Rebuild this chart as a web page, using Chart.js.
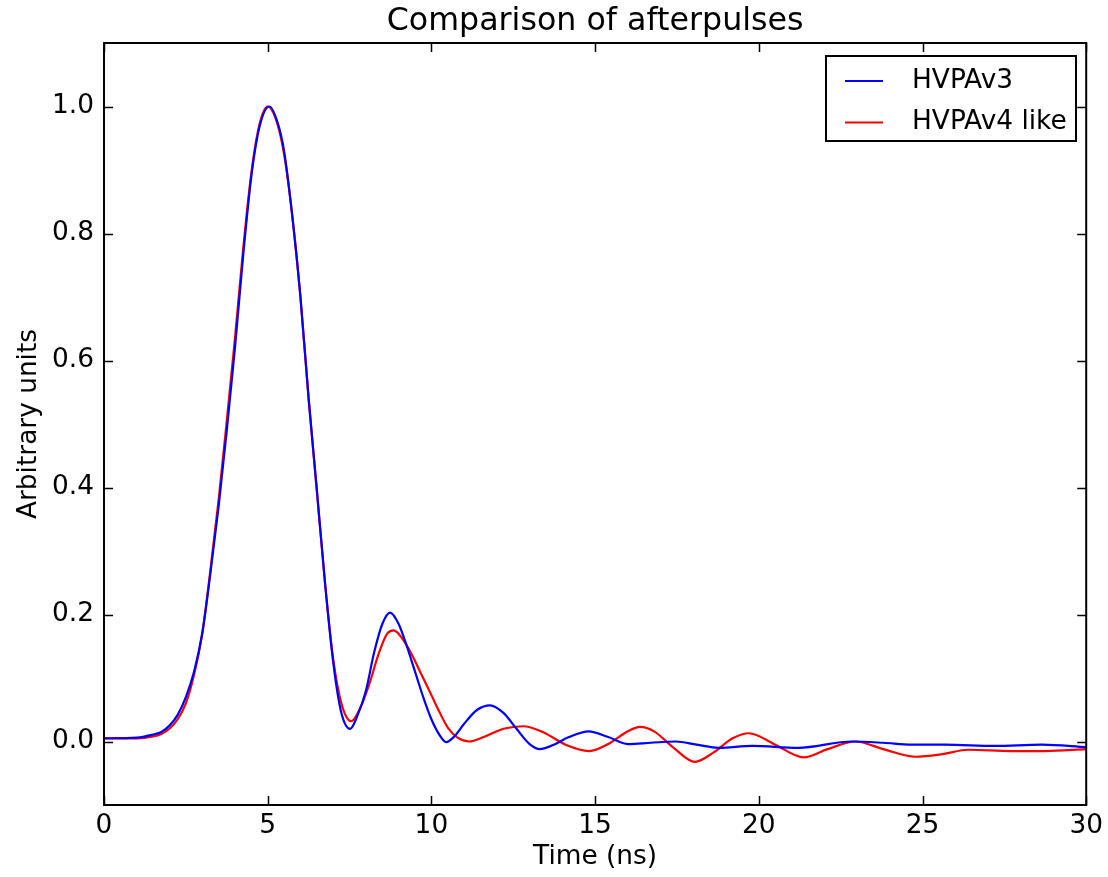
<!DOCTYPE html>
<html>
<head>
<meta charset="utf-8">
<script src="https://cdn.jsdelivr.net/npm/chart.js@4/dist/chart.umd.min.js"></script>
<style>
  html, body { margin: 0; padding: 0; background: #fff; }
  #wrap { width: 1108px; height: 877px; }
</style>
</head>
<body>
<div id="wrap"><canvas id="c" width="1108" height="877"></canvas></div>
<script>
const titleText = 'Comparison of afterpulses';
const xTitle = 'Time (ns)';
const yTitle = 'Arbitrary units';
const seriesNames = ['HVPAv3', 'HVPAv4 like'];
const xTicks = [0, 5, 10, 15, 20, 25, 30];
const yTicks = [0.0, 0.2, 0.4, 0.6, 0.8, 1.0];

const v3Time = [0, 1.0, 1.5, 1.75, 2.0, 2.25, 2.5, 2.75, 3.0, 3.25, 3.5, 3.75, 4.0, 4.25, 4.5, 4.75, 5.05, 5.3, 5.5, 5.75, 6.0, 6.25, 6.5, 6.75, 7.0, 7.25, 7.52, 7.75, 8.0, 8.25, 8.5, 8.74, 9.0, 9.25, 9.5, 9.75, 10.0, 10.25, 10.45, 10.7, 11.0, 11.4, 11.79, 12.2, 12.6, 13.0, 13.31, 13.7, 14.2, 14.8, 15.4, 16.0, 16.7, 17.46, 18.1, 18.78, 19.8, 21.2, 22.84, 23.8, 24.67, 25.69, 27.2, 28.64, 30];
const v3Values = [0.005, 0.006, 0.011, 0.015, 0.025, 0.042, 0.07, 0.11, 0.17, 0.265, 0.37, 0.49, 0.62, 0.765, 0.89, 0.968, 1.0, 0.975, 0.93, 0.828, 0.70, 0.54, 0.397, 0.25, 0.125, 0.045, 0.02, 0.042, 0.08, 0.14, 0.185, 0.203, 0.185, 0.15, 0.11, 0.07, 0.035, 0.01, -0.001, 0.008, 0.028, 0.05, 0.057, 0.045, 0.02, -0.004, -0.012, -0.006, 0.007, 0.016, 0.007, -0.004, -0.002, 0.0, -0.005, -0.010, -0.007, -0.010, 0.0, -0.002, -0.005, -0.005, -0.007, -0.005, -0.009];

const v4Time = [0, 1.0, 1.5, 1.75, 2.0, 2.25, 2.5, 2.75, 3.0, 3.25, 3.5, 3.75, 4.0, 4.25, 4.5, 4.75, 5.0, 5.25, 5.5, 5.75, 6.0, 6.25, 6.5, 6.75, 7.0, 7.25, 7.55, 7.8, 8.1, 8.4, 8.65, 8.85, 9.1, 9.4, 9.7, 10.0, 10.25, 10.5, 10.8, 11.15, 11.6, 12.2, 12.8, 13.4, 14.1, 14.82, 15.4, 16.0, 16.37, 16.8, 17.4, 18.05, 18.6, 19.2, 19.7, 20.5, 21.37, 22.1, 22.95, 23.8, 24.78, 25.6, 26.4, 27.72, 28.74, 30];
const v4Values = [0.005, 0.005, 0.008, 0.012, 0.02, 0.035, 0.06, 0.105, 0.17, 0.27, 0.38, 0.505, 0.635, 0.775, 0.895, 0.972, 1.0, 0.98, 0.925, 0.828, 0.70, 0.54, 0.395, 0.25, 0.13, 0.06, 0.032, 0.05, 0.09, 0.14, 0.17, 0.175, 0.163, 0.137, 0.105, 0.073, 0.046, 0.022, 0.006, 0.0, 0.007, 0.02, 0.024, 0.015, -0.005, -0.015, -0.004, 0.016, 0.023, 0.016, -0.010, -0.032, -0.018, 0.005, 0.013, -0.005, -0.025, -0.012, 0.0, -0.012, -0.024, -0.020, -0.013, -0.015, -0.015, -0.012];

const FONT = "'DejaVu Sans', sans-serif";
const TICK_SIZE = 26.4;
const TITLE_SIZE = 31.7;

const framePlugin = {
  id: 'frame',
  afterDatasetsDraw(chart) {
    const ctx = chart.ctx;
    const a = chart.chartArea;
    const xs = chart.scales.x, ys = chart.scales.y;
    ctx.save();
    ctx.strokeStyle = '#000';
    ctx.lineWidth = 2;
    ctx.strokeRect(a.left, a.top, a.right - a.left, a.bottom - a.top);
    const L = 9;
    ctx.beginPath();
    xs.ticks.forEach(t => {
      const px = Math.round(xs.getPixelForValue(t.value)) + 0.5;
      ctx.moveTo(px, a.bottom); ctx.lineTo(px, a.bottom - L);
      ctx.moveTo(px, a.top); ctx.lineTo(px, a.top + L);
    });
    ys.ticks.forEach(t => {
      const py = Math.round(ys.getPixelForValue(t.value)) + 0.5;
      ctx.moveTo(a.left, py); ctx.lineTo(a.left + L, py);
      ctx.moveTo(a.right, py); ctx.lineTo(a.right - L, py);
    });
    ctx.lineWidth = 1.5;
    ctx.stroke();
    // title
    ctx.fillStyle = '#000';
    ctx.font = TITLE_SIZE + 'px ' + FONT;
    ctx.textAlign = 'center';
    ctx.textBaseline = 'middle';
    ctx.fillText(titleText, (a.left + a.right) / 2, 22);
    // legend
    const bx = 826, by = 56, bw = 250, bh = 85;
    ctx.fillStyle = '#fff';
    ctx.fillRect(bx, by, bw, bh);
    ctx.lineWidth = 2;
    ctx.strokeStyle = '#000';
    ctx.strokeRect(bx, by, bw, bh);
    ctx.font = TICK_SIZE + 'px ' + FONT;
    ctx.textBaseline = 'middle';
    ctx.textAlign = 'left';
    chart.data.datasets.forEach((ds, i) => {
      const y = by + 25 + i * 41.5;
      ctx.strokeStyle = ds.borderColor;
      ctx.lineWidth = 2.2;
      ctx.beginPath();
      ctx.moveTo(bx + 19, y); ctx.lineTo(bx + 57, y);
      ctx.stroke();
      ctx.fillStyle = '#000';
      ctx.fillText(ds.label, bx + 86, y);
    });
    ctx.restore();
  }
};

const mk = (ts, vs) => ts.map((t, i) => ({ x: t, y: vs[i] }));

new Chart(document.getElementById('c'), {
  type: 'line',
  data: {
    datasets: [
      { label: seriesNames[0], data: mk(v3Time, v3Values), borderColor: '#0000ff', borderWidth: 2.2, pointRadius: 0, cubicInterpolationMode: 'monotone', fill: false },
      { label: seriesNames[1], data: mk(v4Time, v4Values), borderColor: '#ff0000', borderWidth: 2.2, pointRadius: 0, cubicInterpolationMode: 'monotone', fill: false }
    ]
  },
  options: {
    responsive: false,
    animation: false,
    devicePixelRatio: 1,
    layout: { padding: { left: 0, right: 20, top: 43, bottom: 0 } },
    plugins: {
      legend: { display: false },
      tooltip: { enabled: false },
      title: { display: false }
    },
    scales: {
      x: {
        type: 'linear', min: 0, max: 30,
        afterBuildTicks: s => { s.ticks = xTicks.map(v => ({ value: v })); },
        afterFit: s => { s.height = 72; },
        grid: { display: false, drawTicks: false },
        border: { display: false },
        ticks: { color: '#000', font: { family: FONT, size: TICK_SIZE }, padding: 5, maxRotation: 0, callback: v => String(v) },
        title: { display: true, text: xTitle, color: '#000', font: { family: FONT, size: TICK_SIZE }, padding: { top: 0, bottom: 4 } }
      },
      y: {
        type: 'linear', min: -0.1, max: 1.1,
        afterBuildTicks: s => { s.ticks = yTicks.map(v => ({ value: v })); },
        afterFit: s => { s.width = 104; },
        grid: { display: false, drawTicks: false },
        border: { display: false },
        ticks: { color: '#000', font: { family: FONT, size: TICK_SIZE }, padding: 10, callback: v => Number(v).toFixed(1) },
        title: { display: true, text: yTitle, color: '#000', font: { family: FONT, size: TICK_SIZE }, padding: { top: 13, bottom: 0 } }
      }
    }
  },
  plugins: [framePlugin]
});
</script>
</body>
</html>
